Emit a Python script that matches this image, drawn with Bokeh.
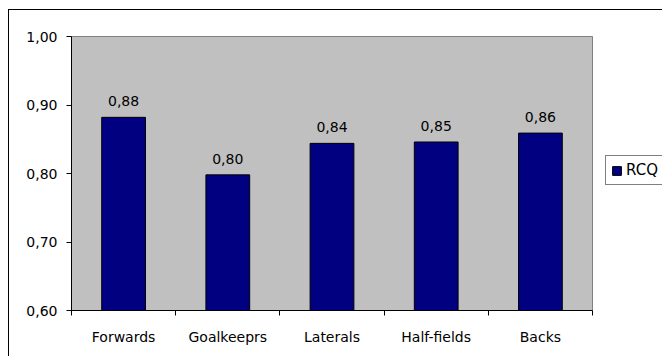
from bokeh.plotting import figure
from bokeh.models import (Range1d, FixedTicker, CustomJSTickFormatter, Legend,
                          LegendItem, ColumnDataSource)
from bokeh.embed import file_html
from bokeh.resources import INLINE
from bokeh.core.properties import value

# ---- data ----
categories = ["Forwards", "Goalkeeprs", "Laterals", "Half-fields", "Backs"]
rcq = [0.882, 0.798, 0.844, 0.846, 0.859]
y_ticks = [0.6, 0.7, 0.8, 0.9, 1.0]
series_name = "RCQ"

xpos = [i + 0.5 for i in range(len(categories))]
labels = [f"{v:.2f}".replace(".", ",") for v in rcq]
src = ColumnDataSource(dict(x=xpos, top=rcq, label=labels))

FONT = "DejaVu Sans"
FS = "14px"

p = figure(frame_width=521, frame_height=274,
           min_border_left=62, min_border_top=26,
           min_border_right=70, min_border_bottom=46,
           x_range=Range1d(0, len(categories)), y_range=Range1d(0.6, 1.0),
           output_backend="svg", toolbar_location=None,
           background_fill_color="#C0C0C0", border_fill_color="white",
           outline_line_color="#808080")
p.margin = (9, 0, 0, 8)
p.styles = {"border-top": "1px solid black", "border-left": "1px solid black"}
p.grid.grid_line_color = None

bars = p.vbar(x="x", top="top", bottom=0.6, width=0.42, source=src,
              fill_color="#000080", line_color="black", line_width=1)

p.text(x="x", y="top", text="label", source=src, text_align="center",
       text_baseline="alphabetic", y_offset=-16,
       text_font=value(FONT), text_font_size=FS, text_color="black")

# y axis
ya = p.yaxis[0]
ya.ticker = FixedTicker(ticks=y_ticks)
ya.formatter = CustomJSTickFormatter(code="return tick.toFixed(2).replace('.', ',');")
ya.major_tick_out = 5
ya.major_tick_in = 0
ya.minor_tick_line_color = None
ya.axis_line_color = "black"
ya.major_tick_line_color = "black"
ya.major_label_standoff = 9
ya.major_label_text_font = FONT
ya.major_label_text_font_size = FS
ya.major_label_text_color = "black"

# x axis
xa = p.xaxis[0]
xa.ticker = FixedTicker(ticks=xpos, minor_ticks=list(range(len(categories) + 1)))
xa.formatter = CustomJSTickFormatter(args=dict(cats=categories),
                                     code="return cats[Math.floor(tick)];")
xa.major_tick_line_color = None
xa.minor_tick_out = 5
xa.minor_tick_in = 0
xa.minor_tick_line_color = "black"
xa.axis_line_color = "black"
xa.major_label_standoff = 12
xa.major_label_text_font = FONT
xa.major_label_text_font_size = FS
xa.major_label_text_color = "black"

legend = Legend(items=[LegendItem(label=series_name, renderers=[bars])],
                location=(13, 125), padding=5, spacing=0, margin=0,
                glyph_width=11, glyph_height=11, label_height=14,
                label_standoff=4, label_text_font=FONT, label_text_font_size="15px",
                label_text_color="black", border_line_color="black",
                border_line_width=1, background_fill_color="white",
                background_fill_alpha=1.0)
p.add_layout(legend, "right")

open("out.html", "w").write(file_html(p, INLINE))
